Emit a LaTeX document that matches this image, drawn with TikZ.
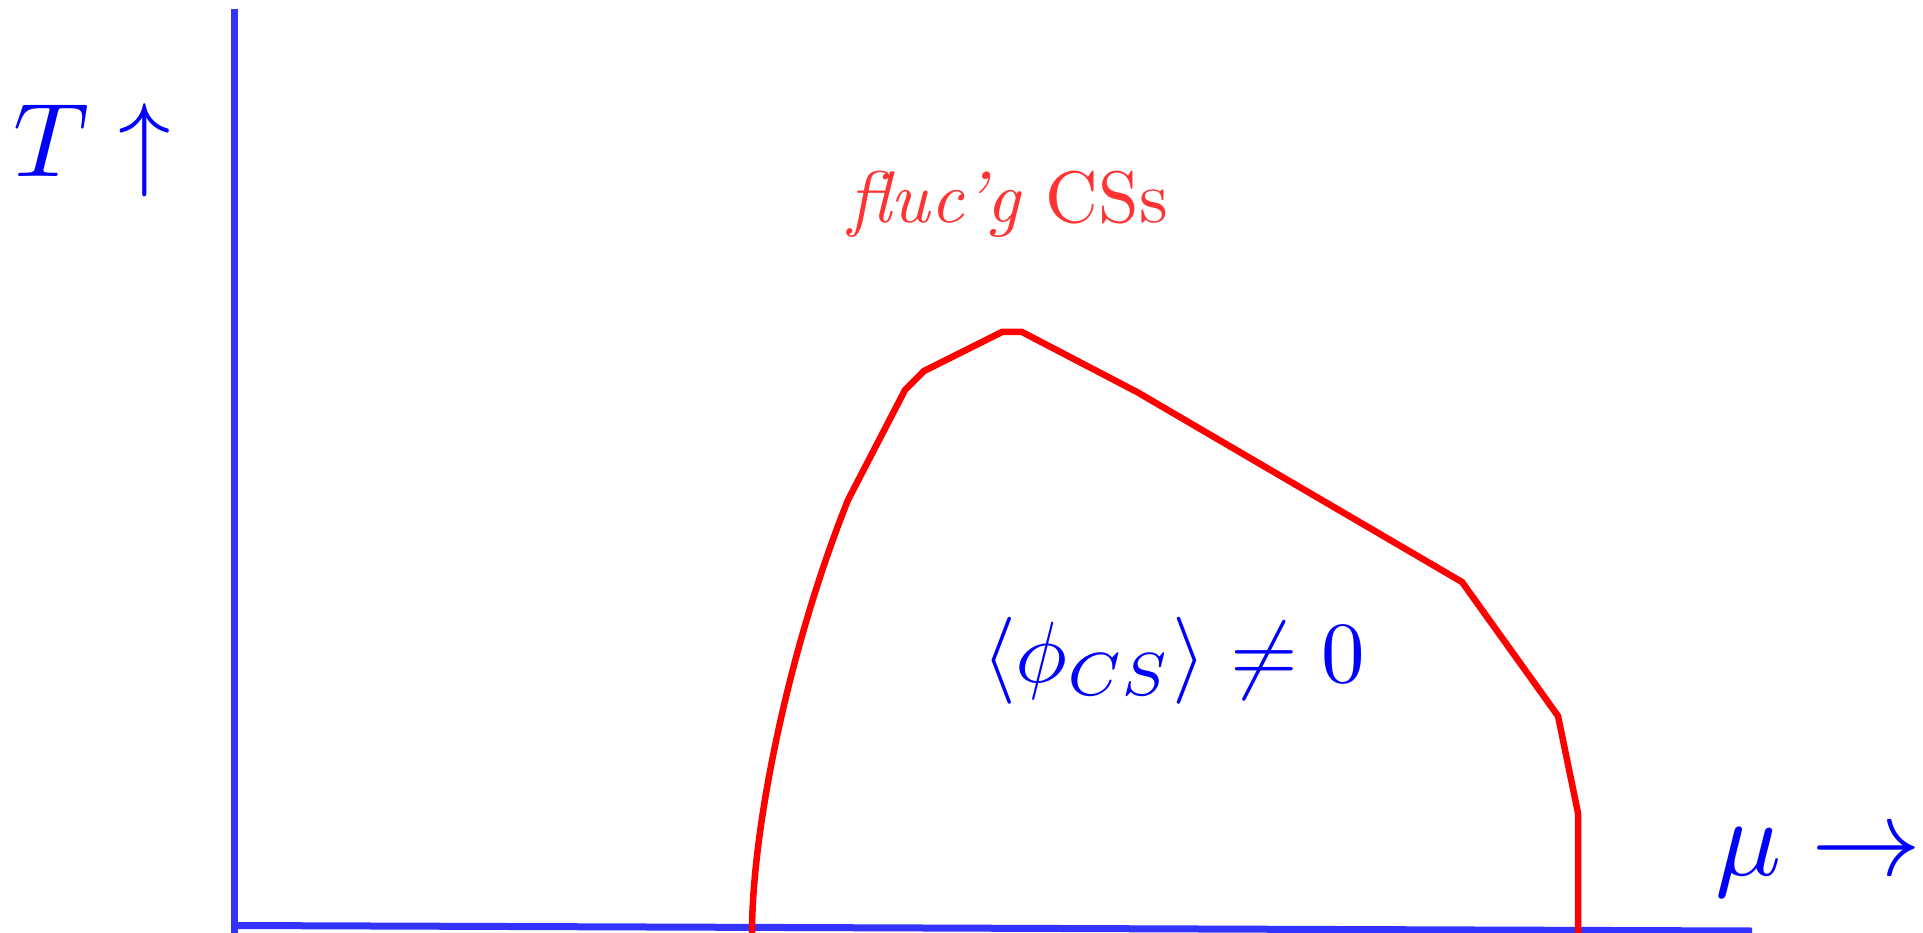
\documentclass[tikz,border=0pt]{standalone}
\begin{document}
\begin{tikzpicture}[x=1pt,y=-1pt,
  axisline/.style={draw=blue!80, line width=7pt},
  boundary/.style={draw=red, line width=6.5pt, line join=miter},
  lbl/.style={inner sep=0pt, outer sep=0pt, anchor=base west, text=blue}]
\useasboundingbox (0,0) rectangle (1923,933);
% axes
\draw[axisline] (234.5,9) -- (234.5,933);
\draw[axisline] (234,925.5) -- (1752,931);
% phase boundary
\draw[boundary] (752,933) .. controls (752,830) and (788,650) .. (848,500)
  -- (905,390) -- (924,371) -- (1002,332) -- (1022,332) -- (1137,392)
  -- (1462,582) -- (1558,716) -- (1578,813) -- (1578,933);
% labels
\node[lbl] (T) at (13,177) {\scalebox{10.5}{$T\uparrow$}};
\node[lbl] (mu) at (1715,875) {\scalebox{11}{$\mu\rightarrow$}};
\node[lbl] (cs) at (982,682) {\scalebox{8.7}{$\langle\phi_{CS}\rangle\neq0$}};
\node[lbl, text=red!80] (fl) at (848,223) {\scalebox{7.3}{\textit{fluc’g} CSs}};
\end{tikzpicture}
\end{document}
